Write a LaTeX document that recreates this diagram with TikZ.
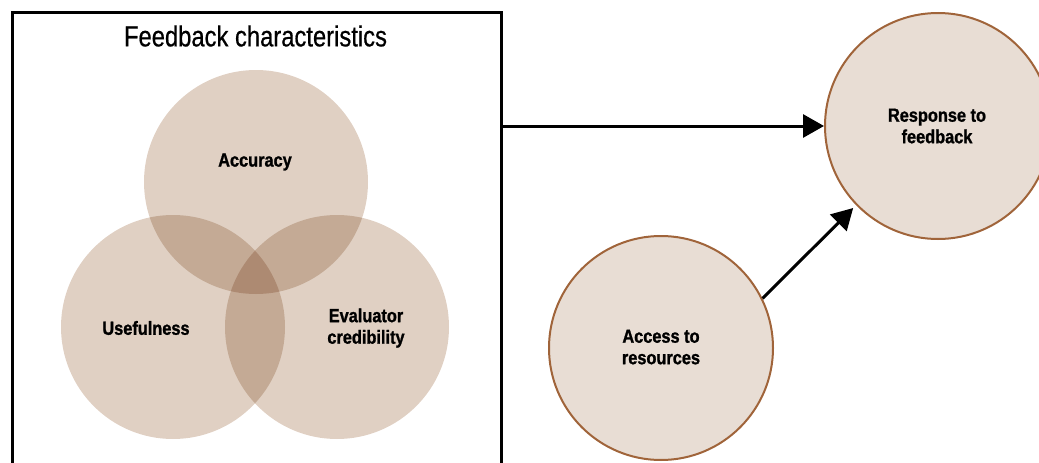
\documentclass[tikz,border=0pt]{standalone}
\usepackage{fontspec}
\usetikzlibrary{arrows.meta}
\newfontfamily\condreg[FakeStretch=0.82,FakeBold=0.6]{Liberation Sans}
\newfontfamily\condbold[FakeStretch=0.86,FakeBold=1.2]{Liberation Sans Bold}
\definecolor{vone}{HTML}{E0D0C3}
\definecolor{vtwo}{HTML}{C4AA95}
\definecolor{vthree}{HTML}{AD8A72}
\definecolor{cfill}{HTML}{E8DDD4}
\definecolor{cedge}{HTML}{A0643A}
\tikzset{
  venn/.style={circle, fill=vone, minimum size=224pt, inner sep=0pt},
  bigc/.style={circle, fill=cfill, draw=cedge, line width=2pt, minimum size=224pt, inner sep=0pt},
  lbl/.style={font=\condbold\fontsize{19}{21.5}\selectfont, align=center},
  conn/.style={line width=3pt, -{Triangle[length=21pt,width=23pt]}},
}
\begin{document}
\begin{tikzpicture}[x=1pt,y=-1pt]
\useasboundingbox (0,0) rectangle (1039,463);
% box
\node[draw, line width=3pt, minimum width=489pt, minimum height=480pt, anchor=north west, inner sep=0pt] (box) at (11,11) {};
\node[font=\condreg\fontsize{29}{32}\selectfont] (title) at (255.5,36) {Feedback characteristics};
% venn
\coordinate (ca) at (256,182);
\coordinate (cu) at (173,327);
\coordinate (ce) at (337,327);
\node[venn] (acc) at (ca) {};
\node[venn] (use) at (cu) {};
\node[venn] (eva) at (ce) {};
\begin{scope}
  \clip (ca) circle (112);
  \fill[vtwo] (cu) circle (112);
  \fill[vtwo] (ce) circle (112);
\end{scope}
\begin{scope}
  \clip (cu) circle (112);
  \fill[vtwo] (ce) circle (112);
\end{scope}
\begin{scope}
  \clip (ca) circle (112);
  \clip (cu) circle (112);
  \fill[vthree] (ce) circle (112);
\end{scope}
\node[lbl] (lacc) at (255,162) {Accuracy};
\node[lbl] (luse) at (146,328) {Usefulness};
\node[lbl] (leva) at (366,328) {Evaluator\\credibility};
% right circles
\node[bigc, minimum size=226pt] (resp) at (938,126) {};
\node[lbl] (lresp) at (937,126) {Response to\\feedback};
\node[bigc] (acs) at (661,348) {};
\node[lbl] (lacs) at (661,347) {Access to\\resources};
% connectors
\draw[conn] (box.east |- resp.west) -- (resp.west);
\draw[conn, shorten >=4pt] (acs.26) -- (resp.224);
\end{tikzpicture}
\end{document}
